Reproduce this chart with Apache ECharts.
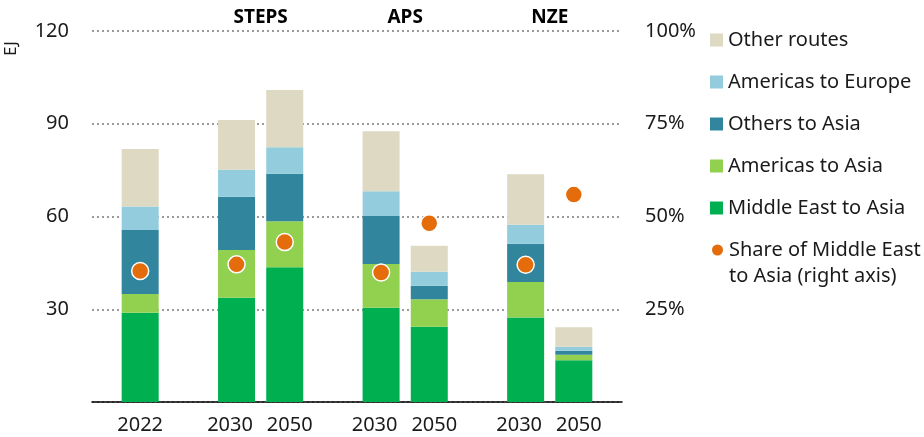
<!DOCTYPE html>
<html>
<head>
<meta charset="utf-8">
<script src="https://cdn.jsdelivr.net/npm/echarts@6/dist/echarts.min.js"></script>
<style>
  html, body { margin: 0; padding: 0; background: #fff; }
  #chart { width: 924px; height: 437px; }
</style>
</head>
<body>
<div id="chart"></div>
<script>
// Gas trade by route, EJ (left axis) and share of Middle East to Asia (right axis)
const categories = ['', '2022', '', '2030', '2050', '', '2030', '2050', '', '2030', '2050', ''];
const middleEastAsia = [null, 28.9, null, 33.7, 43.6, null, 30.5, 24.3, null, 27.3, 13.5, null];
const americasAsia   = [null, 6.0,  null, 15.5, 14.9, null, 14.1, 8.9,  null, 11.5, 1.8,  null];
const othersAsia     = [null, 20.7, null, 17.2, 15.3, null, 15.6, 4.4,  null, 12.4, 1.3,  null];
const americasEurope = [null, 7.6,  null, 8.7,  8.6,  null, 8.0,  4.5,  null, 6.1,  1.3,  null];
const otherRoutes    = [null, 18.6, null, 16.1, 18.5, null, 19.4, 8.4,  null, 16.4, 6.3,  null];
const shareMiddleEast = [null, 35.3, null, 37.1, 43.1, null, 34.9, 48.2, null, 37.0, 55.9, null];

// Scenario headings and the index of each scenario's first bar
const scenarios = ['STEPS', 'APS', 'NZE'];
const scenarioStart = [3, 6, 9];

const leftTicks = [30, 60, 90, 120];
const rightTicks = [25, 50, 75, 100];

const FONT = 'Noto Sans';
const TEXT = '#1a1a1a';

// Heading axis uses half-category steps so a heading sits between a scenario's two bars
const headingData = new Array(categories.length * 2 - 1).fill('');
scenarios.forEach((s, i) => { headingData[scenarioStart[i] * 2 + 1] = s; });

const stackSeries = [
  { name: 'Middle East to Asia', data: middleEastAsia, color: '#00B050' },
  { name: 'Americas to Asia', data: americasAsia, color: '#92D050' },
  { name: 'Others to Asia', data: othersAsia, color: '#31859C' },
  { name: 'Americas to Europe', data: americasEurope, color: '#93CDDD' },
  { name: 'Other routes', data: otherRoutes, color: '#DDD9C3' }
].map(s => ({
  name: s.name,
  type: 'bar',
  stack: 'trade',
  barWidth: 37,
  xAxisIndex: 0,
  yAxisIndex: 0,
  itemStyle: { color: s.color },
  data: s.data
}));

const shareName = 'Share of Middle East\nto Asia (right axis)';
// Circle drawn in the top of a taller icon box so it lines up with the first text line
const shareIcon = 'path://M0,6.5A6.5,6.5,0,1,1,13,6.5A6.5,6.5,0,1,1,0,6.5ZM6.5,39L6.51,39Z';

const legendText = { fontFamily: FONT, fontSize: 20, color: TEXT, lineHeight: 26 };
const yearText = { fontFamily: FONT, fontSize: 20, color: TEXT };

// Paired year labels are nudged apart so they don't run into each other
function yearLabel(value, index) {
  if (!value) return '';
  if (scenarioStart.includes(index)) return '{first|' + value + '}';
  if (scenarioStart.includes(index - 1)) return '{second|' + value + '}';
  return '{single|' + value + '}';
}

const chart = echarts.init(document.getElementById('chart'), null, { renderer: 'canvas' });
chart.setOption({
  animation: false,
  textStyle: { fontFamily: FONT },
  grid: { left: 92, right: 302, top: 31, bottom: 35 },
  legend: [
    {
      orient: 'vertical',
      left: 710,
      top: 27,
      padding: 0,
      itemWidth: 13,
      itemHeight: 13,
      itemGap: 16,
      textStyle: legendText,
      data: ['Other routes', 'Americas to Europe', 'Others to Asia', 'Americas to Asia', 'Middle East to Asia']
        .map(n => ({ name: n, icon: 'rect' }))
    },
    {
      orient: 'vertical',
      left: 710,
      top: 237,
      padding: 0,
      itemWidth: 13,
      itemHeight: 39,
      textStyle: legendText,
      data: [{ name: shareName, icon: shareIcon }]
    }
  ],
  xAxis: [
    {
      type: 'category',
      data: categories,
      boundaryGap: false,
      axisLine: { lineStyle: { color: '#000', width: 1.5 } },
      axisTick: { show: false },
      axisLabel: {
        interval: 0, fontFamily: FONT, fontSize: 20, color: TEXT, margin: 13,
        formatter: yearLabel,
        rich: {
          single: yearText,
          first: Object.assign({ padding: [0, 13, 0, 0] }, yearText),
          second: Object.assign({ padding: [0, 0, 0, 10] }, yearText)
        }
      }
    },
    {
      type: 'category',
      position: 'top',
      data: headingData,
      boundaryGap: false,
      axisLine: { show: false },
      axisTick: { show: false },
      axisLabel: { interval: 0, fontFamily: FONT, fontSize: 19, fontWeight: 'bold', color: '#000', margin: 4 }
    }
  ],
  yAxis: [
    {
      type: 'value',
      min: 0,
      max: 120,
      interval: 30,
      axisLine: { show: false },
      axisTick: { show: false },
      axisLabel: {
        fontFamily: FONT, fontSize: 20, color: TEXT, margin: 23,
        formatter: v => (leftTicks.includes(v) ? String(v) : '')
      },
      splitLine: { lineStyle: { color: '#9a9a9a', width: 2, type: [2, 3] } }
    },
    {
      type: 'value',
      min: 0,
      max: 100,
      interval: 25,
      position: 'right',
      axisLine: { show: false },
      axisTick: { show: false },
      axisLabel: {
        fontFamily: FONT, fontSize: 20, color: TEXT, margin: 23,
        formatter: v => (rightTicks.includes(v) ? v + '%' : '')
      },
      splitLine: { show: false }
    }
  ],
  graphic: [
    {
      type: 'text',
      left: 3,
      top: 41,
      rotation: Math.PI / 2,
      style: { text: 'EJ', fontFamily: FONT, fontSize: 17, fill: TEXT }
    }
  ],
  series: stackSeries.concat([
    {
      name: shareName,
      type: 'scatter',
      xAxisIndex: 0,
      yAxisIndex: 1,
      symbol: 'circle',
      symbolSize: 17,
      z: 5,
      itemStyle: { color: '#E46C0A', borderColor: '#fff', borderWidth: 1.5, opacity: 1 },
      data: shareMiddleEast
    }
  ])
});
</script>
</body>
</html>
